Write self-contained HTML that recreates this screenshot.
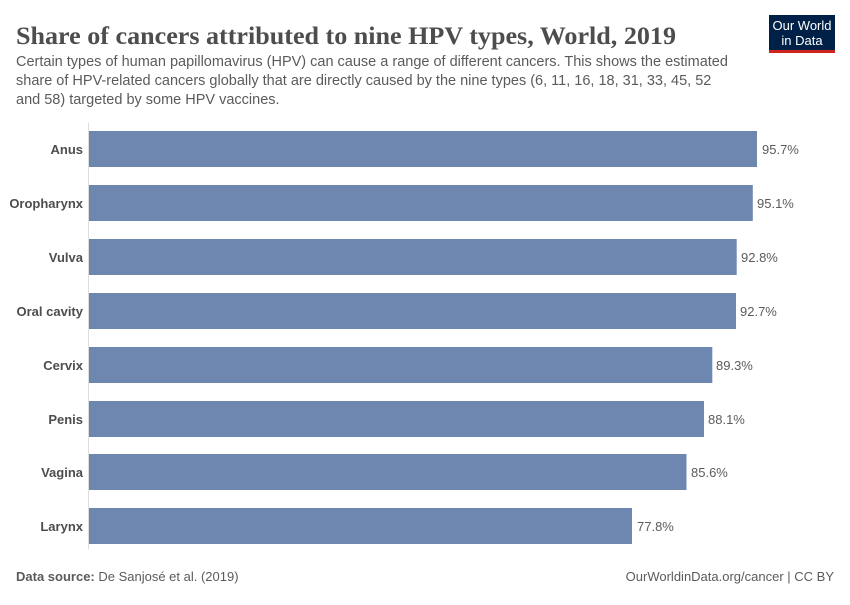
<!DOCTYPE html>
<html><head><meta charset="utf-8"><style>
body{margin:0;background:#fff;width:850px;height:600px;overflow:hidden;font-family:"Liberation Sans",sans-serif}
</style></head><body>
<svg width="850" height="600" xmlns="http://www.w3.org/2000/svg">
<text x="16" y="44" font-family="Liberation Serif,serif" font-size="25" font-weight="bold" fill="#4d4d4d" textLength="660" lengthAdjust="spacingAndGlyphs">Share of cancers attributed to nine HPV types, World, 2019</text>
<g font-size="14.5" fill="#5b5b5b">
<text x="16" y="66">Certain types of human papillomavirus (HPV) can cause a range of different cancers. This shows the estimated</text>
<text x="16" y="85">share of HPV-related cancers globally that are directly caused by the nine types (6, 11, 16, 18, 31, 33, 45, 52</text>
<text x="16" y="104">and 58) targeted by some HPV vaccines.</text>
</g>
<rect x="769" y="15" width="66" height="35" fill="#002147"/>
<rect x="769" y="50" width="66" height="3" fill="#ce261e"/>
<text x="802" y="30" text-anchor="middle" font-size="13" fill="#fff">Our World</text>
<text x="802" y="45" text-anchor="middle" font-size="13" fill="#fff">in Data</text>
<line x1="88.5" y1="123" x2="88.5" y2="549" stroke="#ddd" stroke-width="1"/>
<g fill="#6d87b0">
<rect x="89" y="131" width="668" height="36"/>
<rect x="89" y="185" width="663.8" height="36"/>
<rect x="89" y="239" width="647.7" height="36"/>
<rect x="89" y="293" width="647" height="36"/>
<rect x="89" y="347" width="623.3" height="36"/>
<rect x="89" y="401" width="615" height="36"/>
<rect x="89" y="454" width="597.5" height="36"/>
<rect x="89" y="508" width="543" height="36"/>
</g>
<g font-size="13" font-weight="bold" fill="#4d4d4d" text-anchor="end">
<text x="83" y="154">Anus</text>
<text x="83" y="208">Oropharynx</text>
<text x="83" y="262">Vulva</text>
<text x="83" y="316">Oral cavity</text>
<text x="83" y="370">Cervix</text>
<text x="83" y="424">Penis</text>
<text x="83" y="477">Vagina</text>
<text x="83" y="531">Larynx</text>
</g>
<g font-size="13" fill="#5b5b5b">
<text x="762" y="154">95.7%</text>
<text x="757" y="208">95.1%</text>
<text x="741" y="262">92.8%</text>
<text x="740" y="316">92.7%</text>
<text x="716" y="370">89.3%</text>
<text x="708" y="424">88.1%</text>
<text x="691" y="477">85.6%</text>
<text x="637" y="531">77.8%</text>
</g>
<text x="16" y="581" font-size="13" fill="#5b5b5b"><tspan font-weight="bold">Data source:</tspan> De Sanjosé et al. (2019)</text>
<text x="834" y="581" font-size="13" fill="#5b5b5b" text-anchor="end">OurWorldinData.org/cancer | CC BY</text>
</svg>
</body></html>
